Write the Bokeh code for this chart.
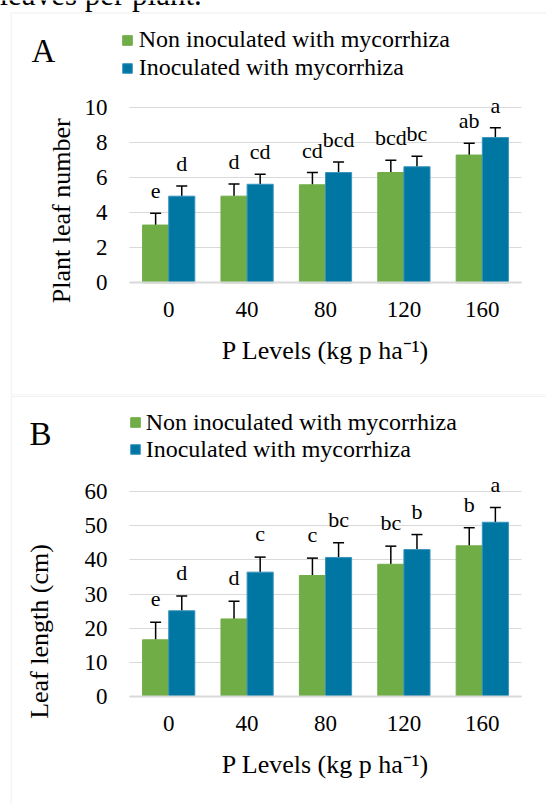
import math
from bokeh.plotting import figure
from bokeh.models import (ColumnDataSource, Range1d, Whisker, TeeHead, LabelSet,
                          Label, Legend, LegendItem, BoxAnnotation, FixedTicker)
from bokeh.transform import dodge
from bokeh.layouts import column
from bokeh.core.properties import value
from bokeh.embed import file_html
from bokeh.resources import INLINE

# ---------------- data ----------------
p_levels = ["0", "40", "80", "120", "160"]
series_names = ["Non inoculated with mycorrhiza", "Inoculated with mycorrhiza"]
x_title = "P Levels (kg p ha\u207b\u00b9)"
caption_fragment = "leaves per plant."

# Panel A: plant leaf number
leaf_num_non = [3.3, 4.95, 5.6, 6.3, 7.3]
leaf_num_non_err = [0.67, 0.69, 0.7, 0.7, 0.68]
leaf_num_ino = [4.95, 5.63, 6.3, 6.63, 8.3]
leaf_num_ino_err = [0.58, 0.58, 0.6, 0.6, 0.56]
leaf_num_non_letters = ["e", "d", "cd", "bcd", "ab"]
leaf_num_ino_letters = ["d", "cd", "bcd", "bc", "a"]
leaf_num_ticks = [0, 2, 4, 6, 8, 10]

# Panel B: leaf length (cm)
leaf_len_non = [16.6, 22.7, 35.4, 38.7, 44.1]
leaf_len_non_err = [5.1, 5.2, 5.1, 5.3, 5.3]
leaf_len_ino = [25.1, 36.4, 40.7, 43.0, 51.0]
leaf_len_ino_err = [4.3, 4.4, 4.3, 4.4, 4.3]
leaf_len_non_letters = ["e", "d", "c", "bc", "b"]
leaf_len_ino_letters = ["d", "c", "bc", "b", "a"]
leaf_len_ticks = [0, 10, 20, 30, 40, 50, 60]

# ---------------- styles / layout ----------------
FONT = "Liberation Serif"
GREEN = "#70AD47"
BLUE = "#0076A3"
GRID = "#d9d9d9"
W = 546
PLOT_L, PLOT_R = 129.0, 521.0          # pixel extent of the category area


def build(panel_letter, ytitle, non, non_err, ino, ino_err, non_let, ino_let, ticks, g):
    H = g["h"]
    n = len(p_levels)
    cat_px = (PLOT_R - PLOT_L) / n
    x0 = -0.5 - PLOT_L / cat_px
    x1 = n - 0.5 + (W - PLOT_R) / cat_px
    unit_px = (g["y0"] - g["ytop"]) / (ticks[-1] - ticks[0])
    y1 = ticks[0] + g["y0"] / unit_px
    y0 = ticks[0] - (H - g["y0"]) / unit_px

    p = figure(width=W, height=H, x_range=Range1d(x0, x1), y_range=Range1d(y0, y1),
               output_backend="svg", toolbar_location=None, min_border=0,
               min_border_left=0, min_border_right=0, min_border_top=0, min_border_bottom=0)
    p.outline_line_color = None
    p.background_fill_color = "white"
    p.border_fill_color = "white"
    p.xgrid.grid_line_color = None
    p.ygrid.ticker = FixedTicker(ticks=ticks)
    p.ygrid.grid_line_color = GRID
    p.ygrid.grid_line_width = 1
    p.ygrid.cross_bounds = (-0.5, n - 0.5)

    yax = p.yaxis[0]
    yax.fixed_location = -0.5
    yax.ticker = FixedTicker(ticks=ticks)
    yax.axis_line_color = None
    yax.major_tick_line_color = None
    yax.minor_tick_line_color = None
    yax.major_tick_out = 0
    yax.major_tick_in = 0
    yax.major_label_standoff = 22
    yax.major_label_text_font = FONT
    yax.major_label_text_font_size = "23px"
    yax.major_label_text_color = "black"

    xax = p.xaxis[0]
    xax.fixed_location = ticks[0]
    xax.bounds = (-0.5, n - 0.5)
    xax.ticker = FixedTicker(ticks=list(range(n)))
    xax.major_label_overrides = {i: lab for i, lab in enumerate(p_levels)}
    xax.axis_line_color = GRID
    xax.axis_line_width = 2
    xax.major_tick_line_color = None
    xax.minor_tick_line_color = None
    xax.major_tick_out = 0
    xax.major_tick_in = 0
    xax.major_label_standoff = 19
    xax.major_label_text_font = FONT
    xax.major_label_text_font_size = "23px"
    xax.major_label_text_color = "black"
    xax.axis_label = x_title
    xax.axis_label_text_font = FONT
    xax.axis_label_text_font_size = "26px"
    xax.axis_label_text_font_style = "normal"
    xax.axis_label_text_color = "black"
    xax.axis_label_standoff = 16

    renderers = []
    for vals, errs, lets, off, col, edge in [(non, non_err, non_let, -0.1667, GREEN, GREEN),
                                             (ino, ino_err, ino_let, 0.1667, BLUE, "#3a93bd")]:
        src = ColumnDataSource(dict(xi=list(range(n)), val=vals,
                                    upper=[v + e for v, e in zip(vals, errs)], letter=lets))
        r = p.vbar(x=dodge("xi", off), top="val", bottom=0, width=0.333, source=src,
                   fill_color=col, line_color=edge, line_width=1)
        renderers.append(r)
        p.add_layout(Whisker(source=src, base=dodge("xi", off),
                             upper="upper", lower="val", dimension="height",
                             line_color="black", line_width=1.5,
                             upper_head=TeeHead(size=11, line_color="black", line_width=1.5),
                             lower_head=None))
        p.add_layout(LabelSet(source=src, x=dodge("xi", off), y="upper",
                              text="letter", y_offset=g["let_off"], text_align="center",
                              text_baseline="alphabetic", text_font=value(FONT),
                              text_font_size=value("22px"), text_color="black"))

    legend = Legend(items=[LegendItem(label=series_names[0], renderers=[renderers[0]]),
                           LegendItem(label=series_names[1], renderers=[renderers[1]])],
                    location=(g["leg_x"], H - g["leg_bottom"]), orientation="vertical",
                    glyph_width=12, glyph_height=12, label_standoff=g["leg_standoff"],
                    label_height=g["leg_row"], spacing=0, padding=0, margin=0,
                    label_text_font=FONT, label_text_font_size="24px",
                    label_text_color="black",
                    border_line_color=None, background_fill_alpha=0)
    p.add_layout(legend)

    p.add_layout(Label(x=g["let_xy"][0], y=g["let_xy"][1], x_units="canvas", y_units="canvas",
                       text=panel_letter, text_font=FONT, text_font_size="33px",
                       text_align="left", text_baseline="alphabetic", text_color="black"))
    p.add_layout(Label(x=g["yt_xy"][0], y=g["yt_xy"][1], x_units="canvas", y_units="canvas",
                       text=ytitle, angle=math.pi / 2, text_font=FONT, text_font_size="26px",
                       text_align="center", text_baseline="alphabetic", text_color="black"))

    p.add_layout(BoxAnnotation(left=g["box"][0], right=g["box"][1], top=g["box"][2],
                               bottom=g["box"][3], left_units="canvas", right_units="canvas",
                               top_units="canvas", bottom_units="canvas",
                               fill_color=None, fill_alpha=0, line_color=GRID, line_width=1.5))
    return p


# pixel geometry (canvas coordinates of each panel)
geomA = dict(h=395, ytop=107.3, y0=282.3, let_off=15, leg_x=120.7, leg_bottom=81.5,
             leg_standoff=6, leg_row=28, let_xy=(31, 50), yt_xy=(60.7, 210.3),
             box=(10.75, 800, 12.5, 394.5))
geomB = dict(h=409, ytop=96.0, y0=301.0, let_off=16, leg_x=128.7, leg_bottom=67.7,
             leg_standoff=5, leg_row=25, let_xy=(29, 38), yt_xy=(39.3, 236),
             box=(10.75, 800, 0.75, 900))

pA = build("A", "Plant leaf number", leaf_num_non, leaf_num_non_err, leaf_num_ino, leaf_num_ino_err,
           leaf_num_non_letters, leaf_num_ino_letters, leaf_num_ticks, geomA)
pA.add_layout(Label(x=-1, y=-6, x_units="canvas", y_units="canvas", text=caption_fragment,
                    text_font=FONT, text_font_size="31px", text_align="left",
                    text_baseline="alphabetic", text_color="black"))
pB = build("B", "Leaf length (cm)", leaf_len_non, leaf_len_non_err, leaf_len_ino, leaf_len_ino_err,
           leaf_len_non_letters, leaf_len_ino_letters, leaf_len_ticks, geomB)

layout = column(pA, pB, spacing=0)
open("out.html", "w").write(file_html(layout, INLINE))
